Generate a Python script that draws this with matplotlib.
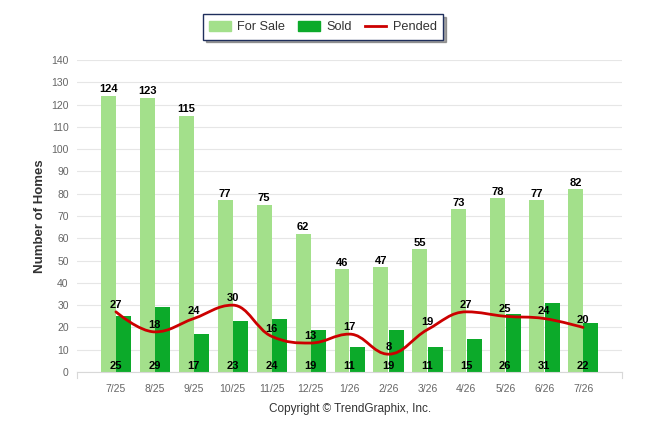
import matplotlib
matplotlib.use("Agg")
import matplotlib.pyplot as plt
from matplotlib.path import Path
from matplotlib.patches import PathPatch
from matplotlib.lines import Line2D
from matplotlib.patches import Patch
import numpy as np

months = ["7/25", "8/25", "9/25", "10/25", "11/25", "12/25", "1/26", "2/26",
          "3/26", "4/26", "5/26", "6/26", "7/26"]
for_sale = [124, 123, 115, 77, 75, 62, 46, 47, 55, 73, 78, 77, 82]
sold = [25, 29, 17, 23, 24, 19, 11, 19, 11, 15, 26, 31, 22]
pended = [27, 18, 24, 30, 16, 13, 17, 8, 19, 27, 25, 24, 20]
y_ticks = list(range(0, 141, 10))

C_SALE = "#a3e08b"
C_SOLD = "#0caa2a"
C_PEND = "#cc0000"

plt.rcParams['font.family'] = ['Liberation Sans', 'DejaVu Sans']

fig = plt.figure(figsize=(6.46, 4.34), dpi=100)
ax = fig.add_axes([77/646, 1-372/434, (622-77)/646, (372-60)/434])

x = np.arange(len(months))
w = 0.385
ax.bar(x - w/2, for_sale, w, color=C_SALE, zorder=2)
ax.bar(x + w/2 + 0.01, sold, w, color=C_SOLD, zorder=2)


def spline_path(xs, ys, smoothing=1.5):
    n = len(xs)
    rc = [None] * n
    lc_list = [None] * n
    verts = [(xs[0], ys[0])]
    codes = [Path.MOVETO]
    for i in range(n):
        if 0 < i < n - 1:
            px, py = xs[i], ys[i]
            lx, ly = xs[i-1], ys[i-1]
            nx, ny = xs[i+1], ys[i+1]
            d = smoothing + 1
            lcx = (smoothing*px + lx)/d
            lcy = (smoothing*py + ly)/d
            rcx = (smoothing*px + nx)/d
            rcy = (smoothing*py + ny)/d
            corr = 0
            if rcx != lcx:
                corr = ((rcy - lcy)*(rcx - px))/(rcx - lcx) + py - rcy
            lcy += corr
            rcy += corr
            if lcy > ly and lcy > py:
                lcy = max(ly, py); rcy = 2*py - lcy
            elif lcy < ly and lcy < py:
                lcy = min(ly, py); rcy = 2*py - lcy
            if rcy > ny and rcy > py:
                rcy = max(ny, py); lcy = 2*py - rcy
            elif rcy < ny and rcy < py:
                rcy = min(ny, py); lcy = 2*py - rcy
            lc_list[i] = (lcx, lcy)
            rc[i] = (rcx, rcy)
    for i in range(1, n):
        c1 = rc[i-1] if rc[i-1] is not None else (xs[i-1], ys[i-1])
        c2 = lc_list[i] if lc_list[i] is not None else (xs[i], ys[i])
        verts += [c1, c2, (xs[i], ys[i])]
        codes += [Path.CURVE4] * 3
    return Path(verts, codes)


ax.add_patch(PathPatch(spline_path(list(x.astype(float)), [float(v) for v in pended]),
                       facecolor='none', edgecolor=C_PEND, lw=2, zorder=3,
                       capstyle='round', joinstyle='round'))

lbl = dict(fontsize=8, fontweight='bold', color='black', ha='center', va='baseline', zorder=5)
for i in range(len(months)):
    ax.annotate(str(for_sale[i]), (x[i] - w/2, for_sale[i]), xytext=(0, 2.5),
                textcoords='offset points', **lbl)
    ax.annotate(str(sold[i]), (x[i], 0), xytext=(0, 2),
                textcoords='offset points', **lbl)
    ax.annotate(str(pended[i]), (x[i], pended[i]), xytext=(0, 3),
                textcoords='offset points', **lbl)

ax.set_xlim(-1, 13)
ax.set_ylim(0, 140)
ax.set_yticks(y_ticks)
ax.set_yticklabels([str(t) for t in y_ticks])
ax.set_xticks(x)
ax.set_xticklabels(months)
ax.tick_params(axis='y', length=0, labelsize=7.5, labelcolor='#666666', pad=6)
ax.tick_params(axis='x', length=0, labelsize=7.5, labelcolor='#666666', pad=9)
ax.grid(axis='y', color='#e6e6e6', lw=0.8, zorder=0)
ax.set_axisbelow(True)
for s in ['top', 'right', 'left']:
    ax.spines[s].set_visible(False)
ax.spines['bottom'].set_color('#d8d8d8')
ax.spines['bottom'].set_linewidth(0.8)
for xe in (-1, 13):
    ax.plot([xe, xe], [0, -2.5], color='#d8d8d8', lw=0.8, clip_on=False)

ax.set_ylabel("Number of Homes", fontsize=9.5, fontweight='bold', color='#333333', labelpad=4)

handles = [Patch(color=C_SALE), Patch(color=C_SOLD), Line2D([], [], color=C_PEND, lw=2)]
leg = fig.legend(handles, ["For Sale", "Sold", "Pended"], loc='center',
                 bbox_to_anchor=(323/646, 1-27/434), ncol=3, frameon=True,
                 fancybox=False, shadow=True, fontsize=9.2, handlelength=1.7,
                 handleheight=0.8, columnspacing=1.0, handletextpad=0.5,
                 borderpad=0.5, borderaxespad=0)
leg.get_frame().set_edgecolor('#1f2f5c')
leg.get_frame().set_linewidth(1.0)
for t in leg.get_texts():
    t.set_color('#333333')

fig.text(350/646, 1-409/434, "Copyright \u00a9 TrendGraphix, Inc.", ha='center', va='center',
         fontsize=8.5, color='#333333')

fig.savefig("out.png", dpi=100)
